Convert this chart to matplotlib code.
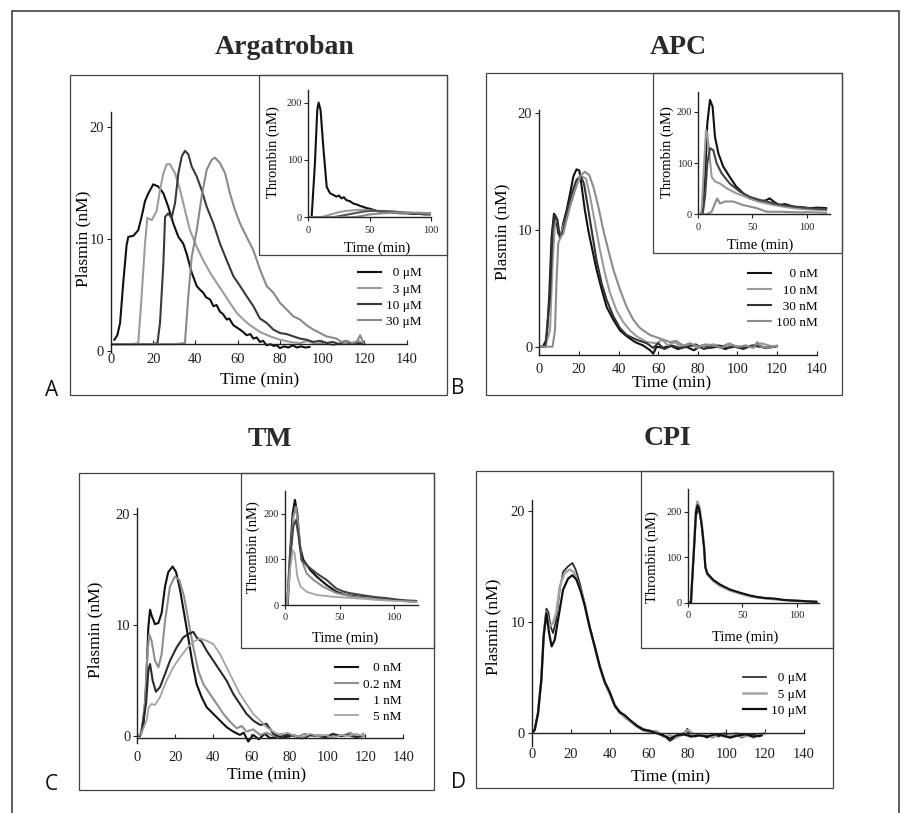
import matplotlib
matplotlib.use('Agg')
import matplotlib.pyplot as plt
from matplotlib.patches import Rectangle

# ---------------- data ----------------
# Argatroban, plasmin (nM) vs time (min)
arg_labels = ['  0 \u03bcM', '  3 \u03bcM', '10 \u03bcM', '30 \u03bcM']
arg0_t = [1.6, 3, 4.3, 5.8, 7.4, 8.2, 10.6, 12.9, 14.5, 16.1, 17.7, 20, 22.4, 24.8, 27.1, 29.5, 31.9, 34.2, 35.8, 38.2,
          40.6, 42, 43.7, 45, 46.9, 48.5, 50, 51.6, 53, 54.8, 56, 57.9, 59.5, 61.1, 62.5, 64.2, 66, 67.4, 69, 70.5, 72,
          73.7, 75.5, 76.9, 78.5, 80, 82, 84, 86, 88, 90, 92, 94]
arg0_y = [1.0, 1.4, 2.5, 6.1, 9.5, 10.2, 10.3, 10.8, 12.0, 13.4, 14.1, 14.9, 14.7, 14.1, 12.9, 11.4, 10.2, 9.6, 8.7, 7.0,
          5.8, 5.5, 5.2, 4.8, 4.6, 4.0, 4.1, 3.5, 3.3, 2.8, 2.9, 2.3, 2.1, 1.9, 1.7, 1.4, 1.5, 1.1, 1.2, 0.8, 0.9,
          0.5, 0.6, 0.45, 0.5, 0.25, 0.4, 0.3, 0.5, 0.3, 0.4, 0.3, 0.35]
arg3_t = [0, 5, 10, 12.9, 14.5, 16.1, 17.2, 19.3, 21.6, 23.2, 24.8, 26.4, 27.9, 30.3, 32.7, 35, 37.4, 40.6, 43.7, 46.9,
          50, 53.2, 56.3, 59.5, 62.7, 65.8, 70.5, 75.3, 80, 84.8, 89.5, 93, 97, 101, 105, 109, 113, 117, 120]
arg3_y = [0.6, 0.6, 0.6, 0.7, 4.9, 9.6, 11.9, 11.7, 12.5, 14.4, 15.9, 16.7, 16.7, 15.9, 14.4, 12.6, 10.8, 9.3, 8.1, 7.0,
          6.1, 5.2, 4.3, 3.4, 2.8, 2.3, 1.7, 1.3, 1.0, 0.8, 0.7, 0.9, 0.6, 0.8, 0.5, 0.7, 0.6, 0.9, 0.6]
arg10_t = [0, 10, 20, 22, 23.2, 24.8, 25.6, 27.1, 28.7, 30.3, 31.9, 33.5, 35, 36.6, 38.2, 40.6, 42.9, 45.3, 48.5, 51.6,
           54.8, 57.9, 61.1, 64.2, 67.4, 70.5, 73.7, 76.9, 80, 83.2, 86.3, 89.5, 92.5, 95.8, 99, 102, 105, 108, 111,
           114, 117, 120]
arg10_y = [0.6, 0.6, 0.6, 0.7, 2.5, 7.8, 12.0, 12.3, 11.9, 13.2, 15.9, 17.4, 17.9, 17.6, 16.5, 15.6, 14.4, 12.9, 11.4, 9.6,
           8.1, 6.7, 5.8, 4.9, 4.0, 2.9, 2.5, 1.9, 1.6, 1.5, 1.3, 1.1, 1.0, 0.8, 0.9, 0.7, 0.8, 0.6, 0.9,
           0.6, 0.7, 0.6]
arg30_t = [0, 10, 20, 30, 35, 36.6, 38.2, 40.6, 42.9, 45.3, 47.7, 49.2, 51.6, 54, 56.3, 58.7, 61.1, 64.2, 67.4, 70.5,
           73.7, 76.9, 80, 83.2, 86.3, 89.5, 92.6, 95.8, 99, 102, 104.5, 106.8, 109, 111.6, 114, 116.3, 118, 119.5]
arg30_y = [0.6, 0.6, 0.6, 0.6, 0.7, 4.9, 8.4, 10.8, 13.8, 16.2, 17.1, 17.3, 16.8, 15.9, 14.1, 12.6, 11.4, 10.2, 9.0, 7.3,
           5.8, 5.2, 4.3, 3.7, 3.1, 2.8, 2.3, 1.9, 1.6, 1.3, 1.2, 1.1, 0.8, 0.9, 0.7, 0.8, 1.4, 0.7]
# Argatroban inset, thrombin (nM)
argi0_t = [0, 2.7, 5.4, 7.3, 8.4, 10, 12.2, 15, 17.7, 20.4, 23, 25, 27, 29, 31, 34, 36.7, 40, 42, 45, 47.6, 50, 53, 56,
           58.4, 62, 66, 70, 75, 80, 85, 90, 95, 100]
argi0_y = [0, 0, 94, 187, 200, 187, 123, 53, 42, 39, 36, 38, 33, 35, 30, 28, 24, 22, 20, 18, 16, 15, 13, 11,
           10, 9, 9, 8, 7, 7, 6, 6, 5, 5]
argi3_t = [0, 10, 15, 20, 25, 30, 35, 40, 45, 50, 55, 60, 70, 80, 90, 100]
argi3_y = [0, 0, 3, 6, 9, 11, 12, 13, 13, 12, 11, 10, 9, 8, 7, 6]
argi10_t = [0, 20, 25, 30, 35, 40, 45, 50, 55, 60, 70, 80, 90, 100]
argi10_y = [0, 0, 2, 4, 6, 8, 10, 11, 11, 11, 10, 8, 7, 6]
argi30_t = [0, 35, 40, 45, 50, 55, 60, 70, 80, 90, 100]
argi30_y = [0, 0, 1, 3, 5, 6, 7, 8, 8, 8, 7]

# APC
apc_labels = ['    0 nM', '  10 nM', '  30 nM', '100 nM']
apc0_t = [0, 1.7, 3.7, 5, 6.2, 7.4, 8.4, 9.6, 10.8, 12.1, 13.8, 15.5, 17.2, 18.8, 20.2, 21.4, 23, 24.7, 26.4, 28.9,
          31.5, 34, 37.4, 40.7, 44.1, 48.3, 52.5, 55.9, 57.5, 59.2, 62.6, 66, 70, 74, 78, 82, 86, 90, 94, 98, 102,
          106, 110, 114, 118]
apc0_y = [0, 0, 0.6, 4.3, 9.4, 11.4, 11.1, 9.7, 9.4, 10.6, 11.7, 13.1, 14.6, 15.2, 15.1, 13.7, 11.7, 10.0, 8.6, 6.6,
          4.9, 3.4, 2.3, 1.4, 0.9, 0.4, 0.1, -0.3, -0.6, 0.0, -0.1, 0.1, -0.2, 0.0, -0.3, 0.1, -0.1, 0.0, -0.2, 0.1,
          -0.1, 0.0, 0.2, -0.1, 0.0]
apc10_t = [0, 3, 5.4, 6.7, 7.9, 9.1, 10.4, 12.1, 13.8, 16.3, 18.8, 21.4, 23.6, 25.6, 28.1, 30.6, 33.1, 35.7, 39, 42.4,
           45.8, 49.1, 54.2, 59.2, 62, 65, 68, 72, 76, 80, 84, 88, 92, 96, 100, 104, 108, 112, 116, 120]
apc10_y = [0, 0, 1.4, 7.1, 10.6, 10.9, 9.4, 10.3, 11.3, 12.6, 14.0, 14.6, 14.4, 12.9, 10.6, 8.3, 6.3, 4.6, 3.1, 2.1,
           1.4, 0.9, 0.4, 0.3, 0.6, 0.1, 0.4, 0.0, 0.2, -0.1, 0.1, 0.2, 0.0, 0.3, -0.1, 0.1, 0.0, 0.3, 0.1, 0.0]
apc30_t = [0, 3, 5.4, 6.7, 7.9, 9.1, 10.4, 12.1, 14.1, 16.3, 18.8, 20.9, 22.5, 24.2, 26.4, 28.9, 31.5, 34, 37.4, 40.7,
           44.1, 49.1, 54.2, 57.5, 60, 63, 67, 71, 75, 79, 83, 87, 91, 95, 99, 103, 107, 111, 115, 119]
apc30_y = [0, 0, 4.3, 10.0, 11.3, 10.9, 9.3, 10.0, 11.7, 13.1, 14.3, 14.6, 14.0, 12.3, 10.0, 7.4, 5.4, 4.0, 2.6, 1.6,
           1.0, 0.6, 0.3, -0.1, 0.3, -0.2, 0.1, -0.1, 0.0, 0.2, -0.2, 0.0, 0.1, -0.1, 0.0, -0.2, 0.1, 0.0, -0.1, 0.0]
apc100_t = [0, 6.7, 7.9, 8.7, 9.6, 10.8, 12.1, 13.8, 15.5, 18, 20.5, 23, 25.2, 27.3, 29.8, 32.3, 34.8, 37.4, 40.7, 44.1,
            47.5, 50.8, 55.9, 61, 66, 69, 72.7, 76, 80, 84, 88, 92, 96, 100, 104, 108, 110, 112, 116, 120]
apc100_y = [0, 0, 1.4, 5.7, 8.9, 9.4, 9.7, 10.9, 12.0, 13.4, 14.6, 15.0, 14.7, 13.7, 12.0, 10.0, 8.3, 6.6, 4.9, 3.4,
            2.3, 1.6, 1.0, 0.7, 0.4, 0.5, 0.1, 0.3, 0.0, 0.2, 0.1, -0.1, 0.2, 0.0, 0.1, -0.1, 0.4, 0.0, -0.1, 0.1]
apci0_t = [0, 3, 6.2, 8.3, 10.8, 13.2, 15.4, 18.5, 23, 29, 35, 41.5, 47.7, 52, 57, 62, 66, 70, 75, 80, 88, 95, 103,
           110, 118]
apci0_y = [0, 0, 67, 177, 223, 210, 151, 119, 93, 73, 54, 41, 31, 28, 25, 27, 31, 24, 18, 20, 15, 14, 12, 13, 12]
apci10_t = [0, 3, 4.6, 7.1, 8.3, 10.2, 12.3, 15.4, 20, 26, 35, 47.7, 55, 63, 70, 78, 88, 97, 108, 118]
apci10_y = [0, 0, 67, 164, 158, 119, 73, 64, 60, 51, 41, 31, 25, 21, 18, 15, 12, 10, 9, 8]
apci30_t = [0, 4, 6.2, 8.3, 10.8, 13.8, 17, 21.5, 29, 38.5, 47.7, 55, 63, 70, 78, 88, 97, 108, 118]
apci30_y = [0, 0, 34, 99, 129, 125, 99, 80, 60, 44, 34, 29, 25, 21, 18, 15, 13, 11, 10]
apci100_t = [0, 8, 12.3, 15.4, 17.5, 20, 24.6, 32, 41.5, 54, 63, 75, 90, 105, 118]
apci100_y = [0, 0, 5, 21, 31, 21, 25, 25, 18, 12, 5, 5, 4, 4, 3]

# TM
tm_labels = ['   0 nM', '0.2 nM', '   1 nM', '   5 nM']
tm0_t = [0, 1.4, 3.2, 4.6, 5.8, 6.7, 7.7, 9.3, 11.1, 12.8, 14.6, 16.3, 18.6, 20.4, 22.5, 24.6, 26.8, 29.1, 31.2, 33.9,
         36.5, 40, 43.5, 47, 50.5, 54, 56, 58.4, 61, 64, 67, 70, 74, 78, 82, 86, 90]
tm0_y = [0, 0, 0.8, 4.4, 9.8, 11.4, 10.8, 10.1, 10.2, 11.1, 13.5, 14.8, 15.3, 14.8, 13.2, 11.1, 8.9, 6.5, 4.7, 3.5,
         2.6, 2.0, 1.4, 0.8, 0.4, 0.1, 0.3, -0.5, 0.1, -0.3, 0.2, -0.2, 0.0, -0.1, 0.1, -0.2, 0.0]
tm02_t = [0, 2, 4, 5.3, 6.3, 7.5, 9.3, 11.1, 12.8, 14.6, 17.2, 19.8, 22.1, 24.6, 26.8, 29.5, 32.1, 34.7, 38.2, 41.8,
          45.3, 48.8, 52.3, 55, 57.5, 61, 64.6, 68, 72, 76, 80, 84, 88, 92, 96, 100, 104, 108, 112, 116, 119]
tm02_y = [0, 0.2, 2.9, 7.4, 9.2, 8.6, 6.8, 6.2, 7.4, 10.4, 13.5, 14.4, 14.1, 12.6, 10.5, 8.0, 5.9, 4.7, 3.8, 2.9,
          2.0, 1.3, 0.7, 0.9, 0.4, 0.6, 0.1, 0.3, 0.0, 0.2, 0.1, -0.1, 0.2, 0.0, 0.1, -0.2, 0.1, 0.0, 0.3, -0.1, 0.2]
tm1_t = [0, 2, 4.6, 5.8, 6.7, 8.1, 9.8, 11.9, 14.6, 17.2, 20.7, 24.2, 26.8, 29.5, 31.2, 33.9, 36.5, 40, 43.5, 47,
         50.5, 54, 57.5, 61, 64.6, 68, 71.6, 75, 79, 83, 87, 91, 95, 99, 103, 107, 111, 115, 119]
tm1_y = [0, 0.2, 2.9, 5.9, 6.5, 5.0, 4.0, 4.4, 5.6, 6.8, 8.0, 8.9, 9.2, 9.4, 8.9, 8.5, 7.7, 6.8, 5.9, 5.0,
         3.8, 2.9, 2.0, 1.4, 1.0, 1.1, 0.2, -0.1, 0.1, 0.0, -0.2, 0.1, 0.0, -0.1, 0.2, 0.0, 0.1, -0.1, 0.0]
tm5_t = [0, 2, 4.9, 6, 7.5, 9.3, 11.9, 15.4, 18.9, 22.5, 26, 29.5, 33, 36.5, 40, 43.5, 47, 50.5, 54, 57.5,
         61, 64.6, 68, 71.6, 75, 79, 83, 87, 91, 95, 99, 103, 107, 111, 115, 119]
tm5_y = [0, 0.2, 1.4, 2.6, 2.9, 2.8, 3.5, 5.0, 6.2, 7.1, 7.9, 8.5, 8.8, 8.6, 8.3, 7.4, 6.2, 5.0, 3.8, 2.9,
         2.0, 1.4, 0.8, 0.4, 0.1, 0.3, 0.0, -0.1, 0.2, 0.0, 0.1, -0.2, 0.1, 0.0, 0.2, 0.0]
tmi0_t = [0, 2, 4.6, 7, 9.1, 11.3, 13.7, 16.8, 22.9, 29, 38, 47, 56, 62, 68.6, 76, 84, 92, 99, 106, 113, 120]
tmi0_y = [0, 0, 113, 200, 230, 200, 128, 99, 77, 62, 44, 29, 22, 20, 18, 17, 15, 13, 11, 10, 8, 7]
tmi02_t = [0, 2, 4.6, 7.6, 10, 12.2, 15.2, 19.8, 26, 35, 47, 55, 62.5, 72, 80.8, 90, 99, 108, 120]
tmi02_y = [0, 0, 99, 193, 215, 172, 99, 69, 55, 40, 26, 22, 18, 16, 15, 12, 11, 9, 7]
tmi1_t = [0, 2.5, 5.2, 7.6, 10, 12.5, 15.2, 21.3, 29, 38, 47, 53, 59, 67, 74.7, 84, 93, 102, 111, 120]
tmi1_y = [0, 0, 113, 172, 186, 150, 99, 84, 69, 55, 36, 30, 26, 23, 20, 17, 15, 12, 10, 9]
tmi5_t = [0, 2, 4.6, 7, 8.8, 11.3, 14.3, 19.8, 29, 44, 62.5, 75, 84, 100, 120]
tmi5_y = [0, 0, 77, 120, 113, 62, 40, 29, 22, 18, 15, 13, 11, 9, 7]

# CPI
cpi_labels = ['  0 \u03bcM', '  5 \u03bcM', '10 \u03bcM']
cpi0_t = [0, 1.4, 3.1, 4.8, 6, 7.4, 8.4, 9.6, 10.8, 12.5, 14.3, 16, 18.6, 20.8, 22.5, 24.6, 27.1, 29.7, 32.3, 34.9,
          37.5, 40, 42.6, 45.2, 47.8, 50.3, 53.8, 57.2, 60.7, 64, 67.5, 71, 74.4, 77.8, 80, 81.3, 84, 87, 90, 93,
          96, 99, 102, 105, 108, 111, 114, 117, 120]
cpi0_y = [0, 0.3, 1.8, 4.8, 8.7, 11.2, 10.9, 9.6, 9.0, 10.2, 12.9, 14.5, 15.0, 15.3, 14.7, 13.5, 11.7, 9.6, 7.8, 6.0,
          4.5, 3.6, 2.4, 1.8, 1.5, 1.2, 0.7, 0.4, 0.2, 0.15, -0.15, -0.7, -0.3, -0.15, 0.4, -0.3, -0.2, -0.1, -0.4,
          -0.2, -0.3, 0.0, -0.3, -0.1, -0.4, -0.2, -0.1, -0.3, 0.0]
cpi5_t = [0, 1.4, 3.1, 4.8, 6, 7.4, 9.1, 10.8, 12.5, 14.3, 16.8, 19.4, 21.5, 23.7, 25, 27.1, 29.7, 32.3, 34.9, 37.5,
          40, 42.6, 45.2, 47.8, 50.3, 53.8, 57.2, 60.7, 64, 67.5, 71, 74.4, 77.8, 80.5, 84, 87, 90, 93, 96, 99,
          102, 105, 108, 111, 114, 117, 120]
cpi5_y = [0, 0.3, 1.8, 4.8, 8.9, 10.9, 9.6, 9.9, 10.8, 13.2, 14.4, 14.7, 14.5, 13.5, 12.9, 11.6, 9.5, 7.7, 5.9, 4.5,
          3.5, 2.5, 1.9, 1.4, 1.1, 0.6, 0.3, 0.1, 0.2, -0.3, -0.2, -0.4, 0.0, 0.3, -0.3, -0.1, -0.2, -0.4, -0.1,
          -0.3, -0.2, 0.0, -0.3, -0.2, -0.4, -0.1, 0.0]
cpi10_t = [0, 1.4, 3.1, 4.8, 6, 7.4, 8.8, 10.1, 11.7, 13.4, 16, 18.6, 20.8, 22.9, 25, 27.1, 29.7, 32.3, 34.9, 37.5,
           40, 42.6, 45.2, 47.8, 50.3, 53.8, 57.2, 60.7, 64, 67.5, 71, 74.4, 78, 82, 86, 90, 94, 98, 102, 106,
           110, 114, 118]
cpi10_y = [0, 0.3, 1.8, 4.8, 8.7, 10.8, 9.0, 7.8, 8.4, 10.2, 12.9, 13.9, 14.2, 13.8, 12.8, 11.5, 9.5, 7.8, 6.0, 4.6,
           3.7, 2.5, 1.9, 1.6, 1.2, 0.7, 0.3, 0.2, 0.0, -0.2, -0.5, -0.2, -0.1, -0.3, -0.2, -0.3, -0.1, -0.2, -0.4,
           -0.2, -0.1, -0.3, -0.2]
cpii0_t = [0, 3, 3.7, 5.8, 7.6, 9.5, 11, 12.8, 15, 16.2, 18, 23.5, 29.7, 38.8, 48, 57, 65, 72.5, 80, 87.8, 95, 103,
           110, 118]
cpii0_y = [0, 0, 30, 115, 190, 205, 198, 170, 120, 80, 65, 50, 39, 28, 21, 15, 12, 10, 8, 6, 5, 4, 3, 2]
cpii5_t = [0, 3, 3.7, 5.8, 7.6, 8.9, 10.7, 12.8, 15, 16.2, 18, 23.5, 29.7, 38.8, 48, 57, 72.5, 87.8, 103, 118]
cpii5_y = [0, 0, 35, 124, 204, 223, 212, 175, 124, 79, 62, 48, 37, 27, 20, 14, 9, 6, 4, 2]
cpii10_t = [0, 3, 3.7, 5.8, 7.6, 9, 10.7, 12.8, 15, 16.2, 18, 23.5, 29.7, 38.8, 48, 57, 65, 72.5, 80, 87.8, 95, 103,
            110, 118]
cpii10_y = [0, 0, 32, 120, 200, 215, 205, 172, 122, 78, 64, 50, 40, 29, 22, 16, 12, 10, 9, 6, 5, 4, 3, 2]

# ---------------- layout helpers (pixel coords of the 905x813 page) ----------------
W, H = 905, 813
plt.rcParams['font.family'] = ['Liberation Serif', 'DejaVu Serif']
fig = plt.figure(figsize=(W / 100, H / 100), dpi=100)


def fx(x):
    return x / W


def fy(y):
    return 1 - y / H


def add_ax(x0, x1, ytop, ybot):
    return fig.add_axes([fx(x0), fy(ybot), fx(x1) - fx(x0), fy(ytop) - fy(ybot)])


def box(x0, y0, x1, y1, lw=0.9, color='#444444'):
    fig.add_artist(Rectangle((fx(x0), fy(y1)), fx(x1) - fx(x0), fy(y0) - fy(y1), transform=fig.transFigure,
                             fill=False, lw=lw, edgecolor=color))


def style(ax, size):
    for s in ['top', 'right']:
        ax.spines[s].set_visible(False)
    for s in ['left', 'bottom']:
        ax.spines[s].set_linewidth(1.0)
        ax.spines[s].set_color('#222222')
    ax.tick_params(labelsize=size, length=3, width=0.8, pad=1.5, colors='#222222')
    ax.set_facecolor('none')


def main_plot(pos, ylim, series, labels, colors, widths, ylab_xy, xlab_xy, leg_xy, xaxis_at, xpad):
    ax = add_ax(*pos)
    for (t, y), lab, c, w in zip(series, labels, colors, widths):
        ax.plot(t, y, color=c, lw=w, label=lab)
    ax.set_xlim(0, 140)
    ax.set_ylim(*ylim)
    ax.set_xticks(range(0, 141, 20))
    ax.set_yticks([0, 10, 20])
    style(ax, 10.5)
    ax.tick_params(axis='x', direction='in', pad=xpad)
    ax.tick_params(axis='y', pad=2)
    ax.spines['bottom'].set_position(('data', xaxis_at))
    ax.set_ylabel('Plasmin (nM)', fontsize=12.5)
    ax.set_xlabel('Time (min)', fontsize=12.5)
    ax.yaxis.set_label_coords(fx(ylab_xy[0]), fy(ylab_xy[1]), transform=fig.transFigure)
    ax.xaxis.set_label_coords(fx(xlab_xy[0]), fy(xlab_xy[1]), transform=fig.transFigure)
    ax.yaxis.label.set_va('center')
    ax.xaxis.label.set_va('center')
    ax.legend(loc='center left', bbox_to_anchor=(fx(leg_xy[0]), fy(leg_xy[1])), bbox_transform=fig.transFigure,
              frameon=False, fontsize=9.5, handlelength=1.75, handletextpad=0.35, labelspacing=0.3,
              borderpad=0, borderaxespad=0)
    return ax


def inset_plot(pos, xmax, ymax, series, colors, widths, ylab_xy, xlab_xy):
    ax = add_ax(*pos)
    for (t, y), c, w in zip(series, colors, widths):
        ax.plot(t, y, color=c, lw=w)
    ax.set_xlim(0, xmax)
    ax.set_ylim(0, ymax)
    ax.set_xticks([0, 50, 100])
    ax.set_yticks([0, 100, 200])
    style(ax, 7.5)
    ax.tick_params(axis='x', pad=3)
    ax.set_ylabel('Thrombin (nM)', fontsize=10.5)
    ax.set_xlabel('Time (min)', fontsize=10.5)
    ax.yaxis.set_label_coords(fx(ylab_xy[0]), fy(ylab_xy[1]), transform=fig.transFigure)
    ax.xaxis.set_label_coords(fx(xlab_xy[0]), fy(xlab_xy[1]), transform=fig.transFigure)
    ax.yaxis.label.set_va('center')
    ax.xaxis.label.set_va('center')
    return ax


# outer frame and panel frames
box(12, 11, 899, 830, lw=1.1, color='#333333')
box(70, 75, 447, 395)
box(486, 73, 842, 395)
box(79, 473, 434, 790)
box(476, 471, 833, 788)
# inset frames
box(259, 75, 447, 255)
box(653, 73, 842, 253)
box(241, 473, 434, 648)
box(641, 471, 833, 648)

title_kw = dict(ha='center', va='center', fontsize=20, fontweight='bold', color='#2a2a2a')
fig.text(fx(285), fy(48), 'Argatroban', **title_kw)
fig.text(fx(678), fy(47), 'APC', **title_kw)
fig.text(fx(270), fy(439), 'TM', **title_kw)
fig.text(fx(667), fy(438), 'CPI', **title_kw)

letter_kw = dict(ha='center', va='center', fontsize=15, family=['Open Sans', 'DejaVu Sans'], color='#111111')
fig.text(fx(52), fy(390), 'A', **letter_kw)
fig.text(fx(458), fy(388), 'B', **letter_kw)
fig.text(fx(51), fy(784), 'C', **letter_kw)
fig.text(fx(458), fy(782), 'D', **letter_kw)

# panel A
main_plot((111, 406.7, 111.7, 352), (-0.1, 21.4),
          [(arg0_t, arg0_y), (arg3_t, arg3_y), (arg10_t, arg10_y), (arg30_t, arg30_y)], arg_labels,
          ['#111111', '#9c9c9c', '#3a3a3a', '#8a8a8a'], [1.5, 1.5, 1.5, 1.5],
          (83, 239), (260, 380), (358, 297.5), 0.6, 6)
inset_plot((308.3, 431, 90, 217.3), 100, 222,
           [(argi0_t, argi0_y), (argi3_t, argi3_y), (argi10_t, argi10_y), (argi30_t, argi30_y)],
           ['#111111', '#9c9c9c', '#555555', '#8a8a8a'], [1.5, 1.5, 1.5, 1.5], (273, 152), (377, 248))

# panel B
main_plot((539.3, 816.7, 109.8, 354.9), (-0.7, 20.3),
          [(apc0_t, apc0_y), (apc10_t, apc10_y), (apc30_t, apc30_y), (apc100_t, apc100_y)], apc_labels,
          ['#111111', '#9a9a9a', '#333333', '#8c8c8c'], [1.5, 1.5, 1.5, 1.5],
          (502, 232), (672, 383), (748, 298.5), -0.7, 5.5)
inset_plot((698.3, 829.9, 91.7, 214.3), 121.5, 239,
           [(apci0_t, apci0_y), (apci10_t, apci10_y), (apci30_t, apci30_y), (apci100_t, apci100_y)],
           ['#111111', '#9a9a9a', '#444444', '#8c8c8c'], [1.5, 1.5, 1.5, 1.5], (667, 152), (760, 245))

# panel C
main_plot((137.3, 403.3, 507.8, 743), (-0.63, 20.6),
          [(tm0_t, tm0_y), (tm02_t, tm02_y), (tm1_t, tm1_y), (tm5_t, tm5_y)], tm_labels,
          ['#111111', '#8f8f8f', '#2a2a2a', '#a3a3a3'], [1.5, 1.5, 1.5, 1.3],
          (95, 630), (267, 775), (335, 692.5), -0.2, 9.5)
inset_plot((285, 418.3, 491.2, 605), 122, 249,
           [(tmi0_t, tmi0_y), (tmi02_t, tmi02_y), (tmi1_t, tmi1_y), (tmi5_t, tmi5_y)],
           ['#111111', '#8f8f8f', '#444444', '#a3a3a3'], [1.5, 1.5, 1.5, 1.3], (253, 547), (345, 638))

# panel D
main_plot((532, 804, 500, 746), (-1.15, 20.96),
          [(cpi0_t, cpi0_y), (cpi5_t, cpi5_y), (cpi10_t, cpi10_y)], cpi_labels,
          ['#222222', '#a5a5a5', '#111111'], [1.2, 1.8, 1.6],
          (493, 627), (671, 777), (743, 694.5), 0, 11)
inset_plot((687.7, 819.3, 489.3, 602.7), 120.7, 250,
           [(cpii0_t, cpii0_y), (cpii5_t, cpii5_y), (cpii10_t, cpii10_y)],
           ['#222222', '#a5a5a5', '#111111'], [1.2, 1.8, 1.5], (652, 557), (745, 637))

fig.savefig('out.png', dpi=100)
